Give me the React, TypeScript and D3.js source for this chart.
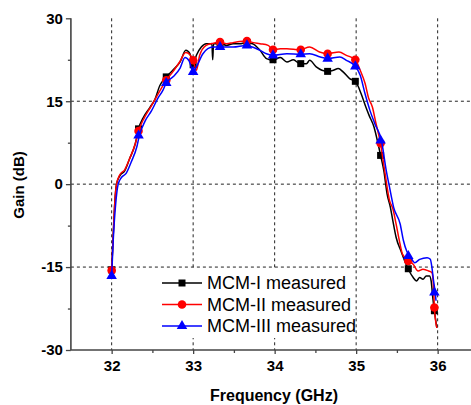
import React, { useRef, useEffect } from "react";
import * as d3 from "d3";

// measured gain curves, [GHz, dB]
const mcm1: [number, number][] = [
  [32.0, -15.5], [32.02, -9.0], [32.04, -3.0], [32.06, 0.0], [32.1, 1.5], [32.16, 2.4],
  [32.22, 4.6], [32.29, 7.3], [32.33, 10.0], [32.39, 12.1], [32.47, 13.9], [32.53, 15.3],
  [32.59, 17.8], [32.67, 19.4], [32.75, 20.6], [32.84, 22.1], [32.91, 24.2], [32.96, 23.6],
  [33.0, 21.5], [33.04, 23.3], [33.1, 24.8], [33.16, 25.4], [33.23, 25.4], [33.24, 22.5],
  [33.25, 25.4], [33.3, 25.4], [33.33, 25.5], [33.41, 25.1], [33.49, 25.4], [33.57, 25.4],
  [33.65, 25.6], [33.73, 25.4], [33.82, 24.2], [33.9, 22.7], [33.98, 22.4], [34.07, 22.9],
  [34.15, 22.1], [34.23, 22.5], [34.31, 21.8], [34.39, 21.8], [34.43, 22.4], [34.51, 21.2],
  [34.65, 20.4], [34.72, 20.6], [34.78, 20.9], [34.84, 20.3], [34.92, 19.1], [34.99, 18.6],
  [35.06, 16.4], [35.12, 13.9], [35.16, 12.4], [35.22, 10.3], [35.26, 7.9], [35.3, 5.2],
  [35.34, 2.4], [35.38, -1.8], [35.42, -4.2], [35.45, -6.6], [35.49, -9.6], [35.55, -12.1],
  [35.64, -15.4], [35.7, -16.9], [35.74, -17.5], [35.78, -16.9], [35.82, -17.2], [35.86, -16.6],
  [35.9, -16.6], [35.92, -17.5], [35.94, -20.5], [35.96, -22.9], [35.99, -26.0],
];

const mcm2: [number, number][] = [
  [32.0, -15.6], [32.02, -9.0], [32.04, -3.0], [32.06, 0.0], [32.1, 1.7], [32.16, 2.6],
  [32.22, 4.6], [32.29, 7.3], [32.33, 9.6], [32.4, 12.0], [32.48, 14.0], [32.55, 15.8],
  [32.62, 17.6], [32.67, 18.8], [32.75, 20.3], [32.83, 22.0], [32.91, 23.8], [32.96, 23.4],
  [33.0, 22.4], [33.04, 20.6], [33.08, 23.3], [33.16, 25.1], [33.25, 25.5], [33.33, 25.7],
  [33.41, 25.4], [33.49, 25.6], [33.57, 25.8], [33.65, 25.9], [33.74, 25.6], [33.82, 25.4],
  [33.92, 25.1], [33.98, 24.3], [34.07, 24.5], [34.15, 24.5], [34.31, 24.3], [34.43, 24.8],
  [34.55, 23.9], [34.65, 23.6], [34.79, 23.9], [34.88, 23.3], [34.99, 22.5], [35.05, 20.6],
  [35.11, 18.2], [35.15, 15.7], [35.2, 13.9], [35.24, 11.2], [35.3, 7.3], [35.35, 2.4],
  [35.41, -3.0], [35.45, -4.4], [35.49, -7.2], [35.53, -10.2], [35.57, -12.7], [35.65, -13.9],
  [35.7, -14.5], [35.76, -15.7], [35.82, -15.4], [35.89, -15.7], [35.93, -16.0], [35.95, -18.7],
  [35.96, -22.3], [35.99, -26.0],
];

const mcm3: [number, number][] = [
  [32.0, -16.6], [32.02, -10.0], [32.05, -3.5], [32.08, 0.0], [32.12, 1.2], [32.18, 2.0],
  [32.24, 4.0], [32.31, 6.8], [32.34, 8.8], [32.41, 11.4], [32.49, 13.3], [32.57, 15.6],
  [32.63, 17.0], [32.67, 18.3], [32.76, 19.5], [32.84, 21.0], [32.9, 22.9], [32.95, 22.3],
  [33.0, 20.3], [33.04, 21.2], [33.12, 23.6], [33.24, 24.8], [33.33, 24.8], [33.49, 24.8],
  [33.65, 25.1], [33.82, 24.2], [33.9, 23.6], [33.98, 23.3], [34.15, 23.6], [34.32, 23.5],
  [34.43, 23.6], [34.56, 23.0], [34.65, 22.7], [34.8, 23.0], [34.88, 22.4], [34.99, 21.3],
  [35.05, 19.7], [35.11, 16.3], [35.17, 13.3], [35.23, 10.9], [35.31, 7.9], [35.37, 2.4],
  [35.41, -0.6], [35.46, -4.2], [35.54, -7.2], [35.58, -10.2], [35.62, -12.1], [35.66, -13.0],
  [35.72, -14.2], [35.78, -13.6], [35.87, -13.3], [35.91, -13.6], [35.93, -15.1], [35.95, -17.5],
  [35.97, -19.6], [35.98, -21.1],
];

// marker positions and the gain read at each
const markerFreqs = [32.0, 32.33, 32.67, 33.0, 33.33, 33.66, 33.98, 34.32, 34.65, 34.99, 35.3, 35.64, 35.96];
const mcm1Markers = [-15.5, 10.0, 19.4, 21.6, 25.4, 25.6, 22.5, 21.8, 20.4, 18.6, 5.2, -15.3, -22.9];
const mcm2Markers = [-15.6, 9.6, 18.8, 22.4, 25.7, 25.9, 24.3, 24.3, 23.6, 22.5, 7.4, -13.9, -22.3];
const mcm3Markers = [-16.6, 8.8, 18.3, 20.3, 24.8, 25.1, 23.3, 23.5, 22.7, 21.3, 7.9, -13.0, -19.6];

const seriesNames = ["MCM-I measured", "MCM-II measured", "MCM-III measured"];
const seriesColors = ["#000000", "#ff0000", "#0000ff"];

const xTicks = [32, 33, 34, 35, 36];
const yTicks = [30, 15, 0, -15, -30];

const Chart = () => {
  const ref = useRef<SVGSVGElement | null>(null);

  useEffect(() => {
    const svg = d3.select(ref.current);
    svg.selectAll("*").remove();

    const x = d3.scaleLinear().domain([31.5, 36.5]).range([70.9, 478.4]);
    const y = d3.scaleLinear().domain([-30, 30]).range([350, 18.3]);
    const font = "Liberation Sans, Arial, sans-serif";
    const axisColor = "#444";

    // grid
    const grid = svg.append("g").attr("stroke", "#222").attr("stroke-width", 1).attr("stroke-dasharray", "3,3");
    xTicks.forEach((t) => {
      grid.append("line").attr("x1", x(t)).attr("x2", x(t)).attr("y1", y(30)).attr("y2", y(-30));
    });
    [15, 0, -15].forEach((t) => {
      grid.append("line").attr("x1", x(31.5)).attr("x2", 471).attr("y1", y(t)).attr("y2", y(t));
    });

    // axes
    const yAxis = d3.axisLeft(y).tickValues(yTicks).tickSize(5).tickFormat((d) => `${d}`);
    const gy = svg.append("g").attr("transform", `translate(${x(31.5)},0)`).call(yAxis);
    gy.select(".domain").attr("d", `M0,${y(30)}V${y(-30)}`);
    svg.append("g").attr("transform", `translate(${x(31.5)},0)`)
      .call(d3.axisLeft(y).tickValues([22.5, 7.5, -7.5, -22.5]).tickSize(3).tickFormat(() => ""))
      .select(".domain").remove();

    const xAxis = d3.axisBottom(x).tickValues(xTicks).tickSize(4).tickPadding(6).tickFormat((d) => `${d}`);
    const gx = svg.append("g").attr("transform", `translate(0,${y(-30)})`).call(xAxis);
    gx.select(".domain").attr("d", `M${x(31.5)},0H${x(36.5)}`);
    svg.append("g").attr("transform", `translate(0,${y(-30)})`)
      .call(d3.axisBottom(x).tickValues([32.5, 33.5, 34.5, 35.5]).tickSize(3).tickFormat(() => ""))
      .select(".domain").remove();

    svg.selectAll(".domain").attr("stroke", axisColor).attr("stroke-width", 1.6);
    svg.selectAll(".tick line").attr("stroke", axisColor).attr("stroke-width", 1.3);
    svg.selectAll(".tick text")
      .attr("fill", "#000")
      .style("font-family", font)
      .style("font-weight", "bold")
      .style("font-size", "15px");

    // axis titles
    svg.append("text")
      .attr("x", 274).attr("y", 401)
      .attr("text-anchor", "middle")
      .style("font-family", font).style("font-weight", "bold").style("font-size", "16px")
      .text("Frequency (GHz)");
    svg.append("text")
      .attr("transform", "translate(24,185) rotate(-90)")
      .attr("text-anchor", "middle")
      .style("font-family", font).style("font-weight", "bold").style("font-size", "15px")
      .text("Gain (dB)");

    const symbols = [d3.symbolSquare, d3.symbolCircle, d3.symbolTriangle];
    const sizes = [49, 58, 48];
    const curves = [mcm1, mcm2, mcm3];
    const markers = [mcm1Markers, mcm2Markers, mcm3Markers];

    const line = d3.line<[number, number]>()
      .x((d) => x(d[0]))
      .y((d) => y(d[1]))
      .curve(d3.curveMonotoneX);

    curves.forEach((c, i) => {
      svg.append("path")
        .attr("d", line(c))
        .attr("fill", "none")
        .attr("stroke", seriesColors[i])
        .attr("stroke-width", 1.5);
      svg.append("g").selectAll("path")
        .data(markerFreqs.map((f, j) => [f, markers[i][j]]))
        .enter()
        .append("path")
        .attr("transform", (d) => `translate(${x(d[0])},${y(d[1])})`)
        .attr("d", d3.symbol().type(symbols[i]).size(sizes[i])())
        .attr("fill", seriesColors[i]);
    });

    // legend, white box hides the grid behind it
    const legend = svg.append("g");
    legend.append("rect")
      .attr("x", 156).attr("y", 269).attr("width", 199).attr("height", 69)
      .attr("fill", "#fff");
    seriesNames.forEach((name, i) => {
      const ly = 283 + i * 21.5;
      legend.append("line")
        .attr("x1", 162).attr("x2", 202).attr("y1", ly).attr("y2", ly)
        .attr("stroke", seriesColors[i]).attr("stroke-width", 1.5);
      legend.append("path")
        .attr("transform", `translate(182,${ly})`)
        .attr("d", d3.symbol().type(symbols[i]).size(sizes[i])())
        .attr("fill", seriesColors[i]);
      legend.append("text")
        .attr("x", 207).attr("y", ly)
        .attr("dy", "0.35em")
        .style("font-family", font).style("font-size", "18px")
        .text(name);
    });
  }, []);

  return (
    <svg
      ref={ref}
      width={471}
      height={405}
      style={{ position: "absolute", left: 0, top: 0, background: "#fff" }}
    />
  );
};

export default function App() {
  return <Chart />;
}
